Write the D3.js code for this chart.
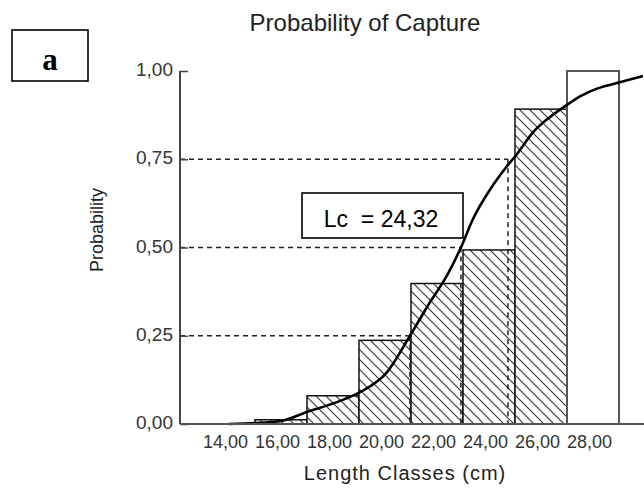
<!DOCTYPE html>
<html>
<head>
<meta charset="utf-8">
<script src="https://cdn.jsdelivr.net/npm/d3@7/dist/d3.min.js"></script>
<style>
  html, body { margin: 0; padding: 0; background: #fff; }
  svg { display: block; }
  text { font-family: "Liberation Sans", Arial, sans-serif; fill: #222; }
</style>
</head>
<body>
<svg id="chart" width="644" height="489"></svg>
<script>
// ---- data ----
const classes      = [14, 16, 18, 20, 22, 24, 26, 28];          // length class (cm)
const observed     = [0.000, 0.012, 0.080, 0.237, 0.398, 0.493, 0.892, 1.000];
const xTickLabels  = ["14,00","16,00","18,00","20,00","22,00","24,00","26,00","28,00"];
const yTicks       = [0, 0.25, 0.5, 0.75, 1];
const yTickLabels  = ["0,00","0,25","0,50","0,75","1,00"];
// fitted selection curve
const curveLen  = [14.0, 15.96, 17.0, 18.15, 19.04, 20.08, 20.96, 21.73, 22.38, 22.92, 23.38, 24.04, 24.69, 25.08, 25.69, 26.35, 26.96, 27.5, 28.15, 28.92, 29.92];
const curveProb = [0.0, 0.008, 0.034, 0.062, 0.09, 0.147, 0.25, 0.345, 0.42, 0.5, 0.58, 0.664, 0.73, 0.765, 0.826, 0.870, 0.902, 0.928, 0.950, 0.966, 0.986];
// quantile guide lines
const quantProb = [0.25, 0.5, 0.75];
const quantLen  = [20.96, 22.92, 24.73];
const title   = "Probability of Capture";
const xTitle  = "Length Classes (cm)";
const yTitle  = "Probability";
const lcLabel = "Lc  = 24,32";
const panel   = "a";

// ---- layout ----
const svg = d3.select("#chart");
const axisX0 = 180, axisX1 = 644;
const y = d3.scaleLinear().domain([0, 1]).range([424, 71]);
// class width is 2 cm -> 52 px; class 14 is centred at 229
const x = d3.scaleLinear().domain([14, 30]).range([229, 229 + 26 * 16]);

// hatch pattern
const defs = svg.append("defs");
const hp = 10;
const pat = defs.append("pattern")
  .attr("id", "hatch").attr("patternUnits", "userSpaceOnUse")
  .attr("width", hp).attr("height", hp);
pat.append("rect").attr("width", hp).attr("height", hp).attr("fill", "#fff");
pat.append("path")
  .attr("d", `M0,0 L${hp},${hp} M-2,${hp-2} L2,${hp+2} M${hp-2},-2 L${hp+2},2`)
  .attr("stroke", "#333").attr("stroke-width", 1.1);

// title
svg.append("text").attr("x", 365).attr("y", 31)
  .attr("text-anchor", "middle").attr("font-size", 24).text(title);

// panel label box
svg.append("rect").attr("x", 12).attr("y", 30).attr("width", 76).attr("height", 51)
  .attr("fill", "#fff").attr("stroke", "#000").attr("stroke-width", 1.6);
svg.append("text").attr("x", 50).attr("y", 70).attr("text-anchor", "middle")
  .style("font-family", "'Liberation Serif', 'Times New Roman', serif")
  .attr("font-weight", "bold").attr("font-size", 31).style("fill", "#000").text(panel);

// dashed guide lines
const g = svg.append("g");
quantProb.forEach((p, i) => {
  g.append("line").attr("x1", axisX0).attr("x2", x(quantLen[i]))
    .attr("y1", y(p)).attr("y2", y(p))
    .attr("stroke", "#222").attr("stroke-width", 1.5).attr("stroke-dasharray", "5,4");
});

// bars
const bars = classes.map((c, i) => ({ c, p: observed[i] }));
g.selectAll("rect.bar").data(bars).enter().append("rect")
  .attr("class", "bar")
  .attr("x", d => x(d.c - 1))
  .attr("width", d => x(d.c + 1) - x(d.c - 1))
  .attr("y", d => y(d.p))
  .attr("height", d => y(0) - y(d.p))
  .attr("fill", d => d.p >= 1 ? "#fff" : "url(#hatch)")
  .attr("stroke", d => d.p >= 1 ? "#555" : "#111")
  .attr("stroke-width", d => d.p >= 1 ? 2 : 1.5)
  .style("display", d => d.p > 0 ? null : "none");

// vertical dashed guides (drawn over bars)
quantProb.forEach((p, i) => {
  g.append("line").attr("x1", x(quantLen[i])).attr("x2", x(quantLen[i]))
    .attr("y1", y(p)).attr("y2", y(0))
    .attr("stroke", "#222").attr("stroke-width", 1.5).attr("stroke-dasharray", "5,4");
});

// selection curve
const pts = curveLen.map((l, i) => [l, curveProb[i]]);
g.append("path").datum(pts)
  .attr("d", d3.line().x(d => x(d[0])).y(d => y(d[1])).curve(d3.curveMonotoneX))
  .attr("fill", "none").attr("stroke", "#000").attr("stroke-width", 2.6);

// y axis
const yAxis = svg.append("g").attr("transform", `translate(${axisX0},0)`)
  .call(d3.axisRight(y).tickValues(yTicks).tickSize(8).tickFormat(""));
yAxis.select(".domain").remove();
yAxis.selectAll(".tick line").attr("stroke", "#444").attr("stroke-width", 1.5);
svg.append("line").attr("x1", axisX0).attr("x2", axisX0).attr("y1", y(1)).attr("y2", y(0))
  .attr("stroke", "#444").attr("stroke-width", 2);
svg.selectAll("text.ytick").data(yTicks).enter().append("text")
  .attr("class", "ytick")
  .attr("x", axisX0 - 7).attr("y", d => y(d) + 5)
  .attr("text-anchor", "end").attr("font-size", 19).style("fill", "#333")
  .text((d, i) => yTickLabels[i]);

// x axis
svg.append("line").attr("x1", axisX0).attr("x2", axisX1).attr("y1", y(0)).attr("y2", y(0))
  .attr("stroke", "#555").attr("stroke-width", 2);
const xAxis = svg.append("g").attr("transform", `translate(0,${y(0)})`)
  .call(d3.axisBottom(x).tickValues(classes).tickSize(0)
    .tickFormat((d, i) => xTickLabels[i]));
xAxis.select(".domain").remove();
xAxis.selectAll(".tick text")
  .attr("dx", -4).attr("dy", 0).attr("y", 24)
  .attr("font-size", 18).style("font-family", "'Liberation Sans', Arial, sans-serif")
  .style("fill", "#333");

// axis titles
svg.append("text").attr("x", 405).attr("y", 480).attr("text-anchor", "middle")
  .attr("font-size", 20).attr("letter-spacing", 1).style("fill", "#222").text(xTitle);
svg.append("text").attr("transform", "translate(103,230) rotate(-90)")
  .attr("text-anchor", "middle").attr("font-size", 18).style("fill", "#222").text(yTitle);

// Lc annotation box
svg.append("rect").attr("x", 302).attr("y", 193).attr("width", 161).attr("height", 45)
  .attr("fill", "#fff").attr("stroke", "#000").attr("stroke-width", 1.6);
svg.append("text").attr("x", 381).attr("y", 227).attr("text-anchor", "middle")
  .attr("font-size", 23).style("fill", "#000").attr("xml:space", "preserve")
  .style("white-space", "pre").text(lcLabel);
</script>
</body>
</html>
